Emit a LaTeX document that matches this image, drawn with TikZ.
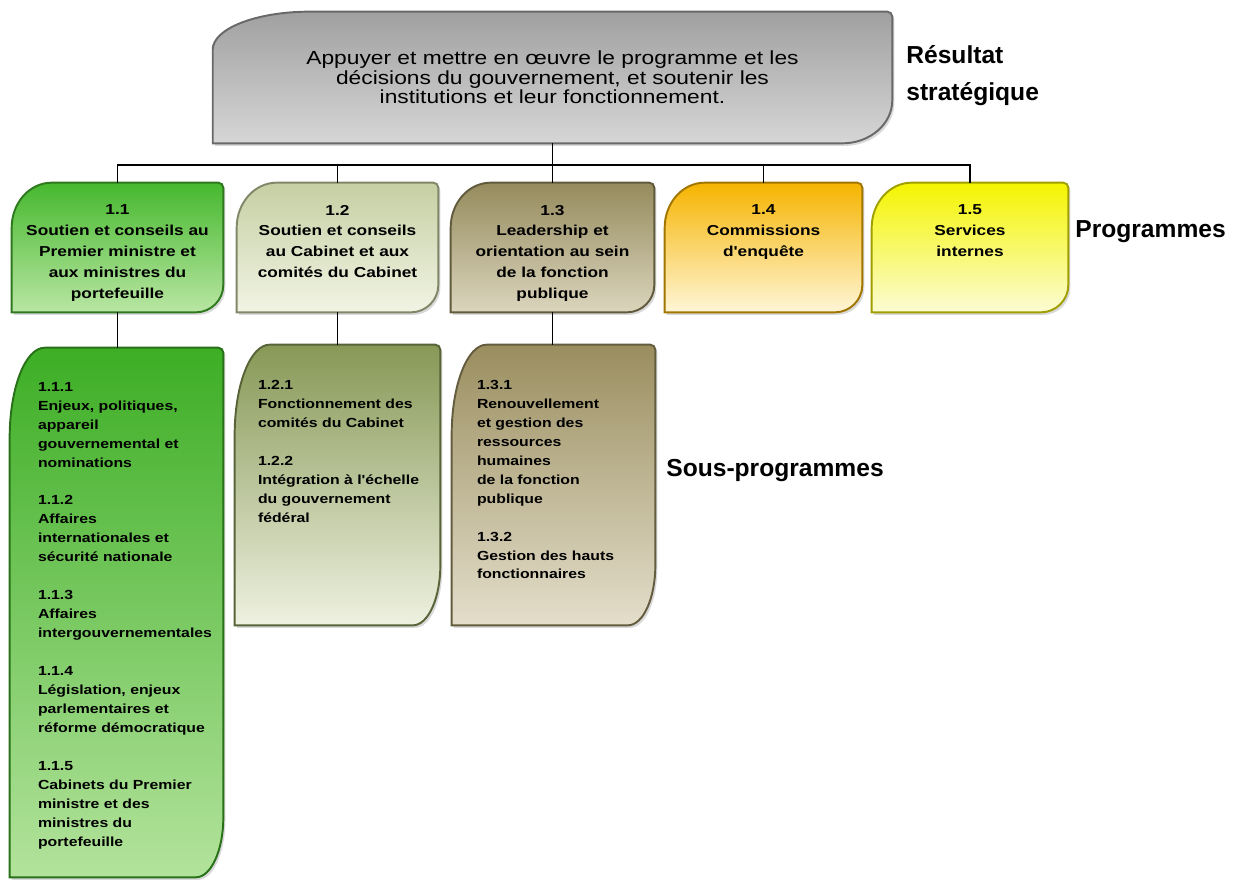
\documentclass[tikz,border=0pt]{standalone}
\usepackage{fontspec}
\setmainfont{Liberation Sans}
\newfontfamily\boxfont[FakeStretch=1.2]{Liberation Sans}
\usetikzlibrary{positioning,backgrounds,shadows}

\definecolor{resTop}{HTML}{A0A0A0}
\definecolor{resBot}{HTML}{D6D6D6}
\definecolor{pTopA}{HTML}{46B82E}
\definecolor{pBotA}{HTML}{B9E6A3}
\definecolor{pTopB}{HTML}{C5CFA2}
\definecolor{pBotB}{HTML}{F1F4E4}
\definecolor{pTopC}{HTML}{958B5D}
\definecolor{pBotC}{HTML}{DBD5BD}
\definecolor{pTopD}{HTML}{F6B400}
\definecolor{pBotD}{HTML}{FFF6D8}
\definecolor{pTopE}{HTML}{F4F400}
\definecolor{pBotE}{HTML}{FCFCD4}
\definecolor{sTopA}{HTML}{3DAE25}
\definecolor{sBotA}{HTML}{B3E39C}
\definecolor{sTopB}{HTML}{879856}
\definecolor{sBotB}{HTML}{EEF1E0}
\definecolor{sTopC}{HTML}{9A8E5F}
\definecolor{sBotC}{HTML}{E4DECB}

\newcommand\bevelbox[7]{%
  \path[top color=#6, bottom color=#7, draw=#6!65!black, line width=1.1pt,
        drop shadow={opacity=0.3, shadow xshift=1.2pt, shadow yshift=-1.5pt}]
    ([yshift=-#3]#1.north west) arc[start angle=180, end angle=90, x radius=#2, y radius=#3]
    -- ([xshift=-0.1cm]#1.north east) arc[start angle=90, end angle=0, radius=0.1cm]
    -- ([yshift=#5]#1.south east) arc[start angle=0, end angle=-90, x radius=#4, y radius=#5]
    -- (#1.south west) -- cycle;}

\begin{document}
\begin{tikzpicture}[x=0.02cm, y=-0.02cm,
  boxnode/.style={inner sep=0pt, minimum height=2.58cm},
  subnode/.style={inner sep=0pt, minimum height=5.6cm},
  progtext/.style={inner sep=0pt, align=center, font=\boxfont\bfseries\fontsize{8.2}{11.9}\selectfont},
  subtext/.style={inner sep=0pt, align=left, font=\boxfont\bfseries\fontsize{7.5}{10.8}\selectfont},
  tier/.style={inner sep=0pt, align=left, font=\bfseries\fontsize{14}{21}\selectfont},
  conn/.style={line width=0.6pt}]
\useasboundingbox (0,0) rectangle (1243,882);

\node[inner sep=0pt, align=center, minimum width=13.58cm, minimum height=2.62cm,
  font=\boxfont\fontsize{10.8}{11}\selectfont] (res) at (552.5,77.5)
  {Appuyer et mettre en œuvre le programme et les\\décisions du gouvernement, et soutenir les\\institutions et leur fonctionnement.};

\node[boxnode, minimum width=4.22cm] (p11) at (117.5,247.5) {};
\node[boxnode, minimum width=4.02cm] (p12) at (337.5,247.5) {};
\node[boxnode, minimum width=4.06cm] (p13) at (552.5,247.5) {};
\node[boxnode, minimum width=3.94cm] (p14) at (763.5,247.5) {};
\node[boxnode, minimum width=3.92cm] (p15) at (970,247.5) {};

\node[progtext, below=0.44cm of p11.north] (t11) {1.1\\Soutien et conseils au\\Premier ministre et\\aux ministres du\\portefeuille};
\node[progtext, below=0.44cm of p12.north] (t12) {1.2\\Soutien et conseils\\au Cabinet et aux\\comités du Cabinet};
\node[progtext, below=0.44cm of p13.north] (t13) {1.3\\Leadership et\\orientation au sein\\de la fonction\\publique};
\node[progtext, below=0.44cm of p14.north] (t14) {1.4\\Commissions\\d'enquête};
\node[progtext, below=0.44cm of p15.north] (t15) {1.5\\Services\\internes};

\node[subnode, minimum width=4.26cm, minimum height=10.58cm] (s11) at (116.5,612.5) {};
\node[subnode, minimum width=4.1cm] (s12) at (337.5,485) {};
\node[subnode, minimum width=4.06cm] (s13) at (553.5,485) {};

\node[subtext, below right=0.68cm and 0.56cm of s11.north west] (u11)
  {1.1.1\\Enjeux, politiques,\\appareil\\gouvernemental et\\nominations\\[10.8pt]
   1.1.2\\Affaires\\internationales et\\sécurité nationale\\[10.8pt]
   1.1.3\\Affaires\\intergouvernementales\\[10.8pt]
   1.1.4\\Législation, enjeux\\parlementaires et\\réforme démocratique\\[10.8pt]
   1.1.5\\Cabinets du Premier\\ministre et des\\ministres du\\portefeuille};
\node[subtext, below right=0.7cm and 0.46cm of s12.north west] (u12)
  {1.2.1\\Fonctionnement des\\comités du Cabinet\\[10.8pt]
   1.2.2\\Intégration à l'échelle\\du gouvernement\\fédéral};
\node[subtext, below right=0.7cm and 0.5cm of s13.north west] (u13)
  {1.3.1\\Renouvellement\\et gestion des\\ressources\\humaines\\de la fonction\\publique\\[10.8pt]
   1.3.2\\Gestion des hauts\\fonctionnaires};

\node[tier, anchor=north west] (lres) at (906,45) {Résultat\\stratégique};
\node[tier, anchor=base west] (lprog) at (1075,237) {Programmes};
\node[tier, anchor=base west] (lsub) at (666,476) {Sous-programmes};

\begin{scope}[on background layer]
\bevelbox{res}{1.94cm}{0.76cm}{1cm}{0.86cm}{resTop}{resBot}
\bevelbox{p11}{0.8cm}{0.9cm}{0.55cm}{0.55cm}{pTopA}{pBotA}
\bevelbox{p12}{0.8cm}{0.9cm}{0.55cm}{0.55cm}{pTopB}{pBotB}
\bevelbox{p13}{0.8cm}{0.9cm}{0.55cm}{0.55cm}{pTopC}{pBotC}
\bevelbox{p14}{0.8cm}{0.9cm}{0.55cm}{0.55cm}{pTopD}{pBotD}
\bevelbox{p15}{0.8cm}{0.9cm}{0.55cm}{0.55cm}{pTopE}{pBotE}
\bevelbox{s11}{0.7cm}{1.8cm}{0.55cm}{1.2cm}{sTopA}{sBotA}
\bevelbox{s12}{0.7cm}{1.8cm}{0.55cm}{1.2cm}{sTopB}{sBotB}
\bevelbox{s13}{0.7cm}{1.8cm}{0.55cm}{1.2cm}{sTopC}{sBotC}
\end{scope}

\coordinate (bus) at (552.5,165);
\draw[conn] (res.south) -- (p13.north);
\draw[conn] (p11.north) |- (bus) -| (p15.north);
\foreach \p in {p12,p14} \draw[conn] (\p.north) -- (\p.north |- bus);
\foreach \p/\s in {p11/s11,p12/s12,p13/s13} \draw[conn] (\p.south) -- (\p.south |- \s.north);
\end{tikzpicture}
\end{document}
